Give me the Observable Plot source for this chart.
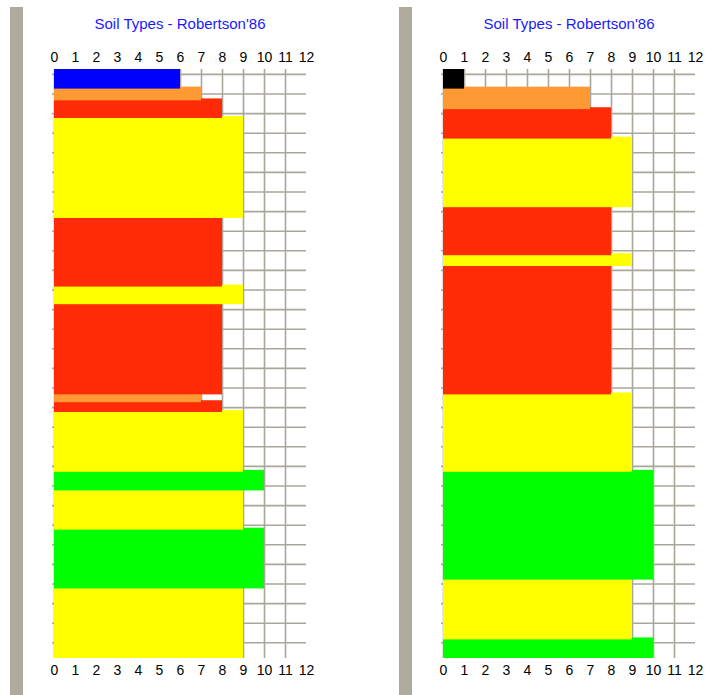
<!DOCTYPE html>
<html>
<head>
<meta charset="utf-8">
<script src="https://cdn.jsdelivr.net/npm/d3@7"></script>
<script src="https://cdn.jsdelivr.net/npm/@observablehq/plot@0.6"></script>
<style>
  html, body { margin: 0; padding: 0; background: #fff; overflow: hidden; width: 705px; height: 695px; }
  #wrap { position: relative; width: 705px; height: 695px; overflow: hidden; }
  .panel { position: absolute; top: 0; width: 389px; height: 695px; }
  .bar { position: absolute; left: 10px; width: 13px; top: 7px; bottom: 0; background: #aeaa9c; }
  .title { position: absolute; top: 15px; left: 34px; width: 292px; text-align: center;
           font: 15px "Liberation Sans", Arial, sans-serif; color: #1a1aff; white-space: nowrap; }
  .chart { position: absolute; top: 36px; left: 0; }
</style>
</head>
<body>
<div id="wrap">
  <div class="panel" style="left:0px"><div class="bar"></div><div class="title">Soil Types - Robertson'86</div><div class="chart" id="c1"></div></div>
  <div class="panel" style="left:389px"><div class="bar"></div><div class="title">Soil Types - Robertson'86</div><div class="chart" id="c2"></div></div>
</div>
<script>
// Robertson'86 soil behaviour zones and their colours
const zoneList   = [1, 6, 7, 8, 9, 10];
const zoneColors = ["#000000", "#0000ff", "#ff9933", "#ff2a06", "#ffff00", "#00ff00"];

// Left profile: layer bottom depths and zones
const leftBottoms = [1.0, 1.6, 2.5, 7.6, 11.1, 12.0, 16.6, 17.0, 17.5, 20.55, 21.5, 23.5, 26.5, 30.05];
const leftZones   = [6, 7, 8, 9, 8, 9, 8, 7, 8, 9, 10, 9, 10, 9];

// Right profile
const rightBottoms = [1.0, 2.05, 3.55, 7.05, 9.5, 10.05, 16.6, 20.55, 26.05, 29.1, 30.05];
const rightZones   = [1, 7, 8, 9, 8, 9, 8, 9, 10, 9, 10];

const xTicks = [0, 1, 2, 3, 4, 5, 6, 7, 8, 9, 10, 11, 12];
const xGrid = [0, 1, 2, 3, 4, 5, 6, 7, 8, 9, 10, 11];
const depthGrid = d3.range(0.25, 29.5, 1);
const depthDomain = [0, 30.05];

function layers(bottoms, zones) {
  return bottoms.map((b, i) => ({top: i === 0 ? 0 : bottoms[i - 1], bottom: b, zone: zones[i], order: i}));
}

function chart(bottoms, zones) {
  const data = layers(bottoms, zones).reverse();
  const grid = "#aaa69a";
  return Plot.plot({
    width: 389,
    height: 659,
    marginTop: 33,
    marginBottom: 37,
    marginLeft: 54,
    marginRight: 83,
    style: {fontFamily: "'Liberation Sans', Arial, sans-serif", fontSize: "14px", color: "#000", background: "transparent"},
    x: {domain: [0, 12], ticks: xTicks, tickFormat: d => String(d)},
    y: {domain: depthDomain, reverse: true, axis: null},
    color: {type: "ordinal", domain: zoneList, range: zoneColors},
    marks: [
      Plot.ruleX(xGrid, {stroke: grid, strokeWidth: 1.6}),
      Plot.ruleY(depthGrid, {x1: 0, x2: 12, stroke: grid, strokeWidth: 1.6, insetLeft: -2}),
      Plot.rect(data, {x1: 0, x2: "zone", y1: d => d.order === 0 ? d.top : d.top - 0.1, y2: "bottom", fill: "zone", clip: true}),
      Plot.axisX({anchor: "top", ticks: xTicks, tickSize: 0, tickPadding: 8, label: null, fontSize: 14, tickFormat: d => String(d)}),
      Plot.axisX({anchor: "bottom", ticks: xTicks, tickSize: 0, tickPadding: 7, label: null, fontSize: 14, tickFormat: d => String(d)})
    ]
  });
}

document.getElementById("c1").appendChild(chart(leftBottoms, leftZones));
document.getElementById("c2").appendChild(chart(rightBottoms, rightZones));
</script>
</body>
</html>
